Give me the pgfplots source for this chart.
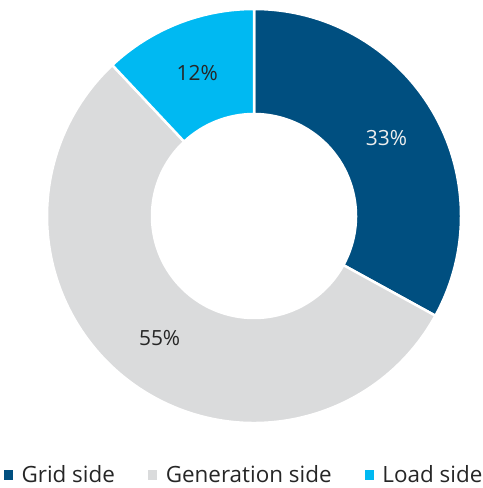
\documentclass[border=0pt]{standalone}
\usepackage{fontspec}
\setmainfont{Open Sans}
\usepackage{pgfplots}
\pgfplotsset{compat=1.18}
\usepackage{pgfplotstable}
\definecolor{gridc}{HTML}{004F80}
\definecolor{genc}{HTML}{DADBDC}
\definecolor{loadc}{HTML}{00B9F2}
\definecolor{labdark}{HTML}{262626}
\definecolor{lablight}{HTML}{EEEEEE}
\newcommand\pctfont{\fontsize{21}{24}\selectfont}
% shares in percent, clockwise from 12 o'clock
\pgfplotstableread{
name value fillc labc
Grid 33 gridc lablight
Generation 55 genc labdark
Load 12 loadc labdark
}\shares
\begin{document}
\begin{tikzpicture}
\begin{axis}[
  scale only axis, width=483bp, height=488bp,
  xmin=0, xmax=483, ymin=0, ymax=488,
  hide axis,
  legend columns=3,
  legend style={draw=none, fill=none, at={(axis cs:243,13.5)}, anchor=center,
    font=\fontsize{22.5}{26}\selectfont\color{labdark},
    nodes={inner sep=0pt},
    /tikz/every odd column/.append style={column sep=9bp},
    /tikz/every even column/.append style={column sep=33bp},
    inner sep=0pt},
  legend image code/.code={\fill[#1] (0bp,-4.25bp) rectangle (8.5bp,4.25bp);},
]
\addlegendimage{gridc}\addlegendentry{Grid side}
\addlegendimage{genc}\addlegendentry{Generation side}
\addlegendimage{loadc}\addlegendentry{Load side}
\gdef\startang{90}
\pgfplotsforeachungrouped \i in {0,1,2}{%
  \pgfplotstablegetelem{\i}{value}\of\shares \let\v\pgfplotsretval
  \pgfplotstablegetelem{\i}{fillc}\of\shares \let\fc\pgfplotsretval
  \pgfplotstablegetelem{\i}{labc}\of\shares \let\lc\pgfplotsretval
  \pgfmathsetmacro\endang{\startang-3.6*\v}%
  \pgfmathsetmacro\midang{(\startang+\endang)/2}%
  \edef\temp{\noexpand\filldraw[fill=\fc, draw=white, line width=2.5bp]
    (axis cs:254,272) ++(\startang:207bp)
    arc[start angle=\startang, end angle=\endang, radius=207bp]
    -- ([shift={(\endang:102bp)}]axis cs:254,272)
    arc[start angle=\endang, end angle=\startang, radius=102bp] -- cycle;
    \noexpand\node[text=\lc, font=\noexpand\pctfont]
    at ([shift={(\midang:154bp)}]axis cs:254,272) {\v\noexpand\%};}%
  \temp
  \global\let\startang\endang
}
\end{axis}
\pgfresetboundingbox
\useasboundingbox (current axis.south west) rectangle (current axis.north east);
\end{tikzpicture}
\end{document}
